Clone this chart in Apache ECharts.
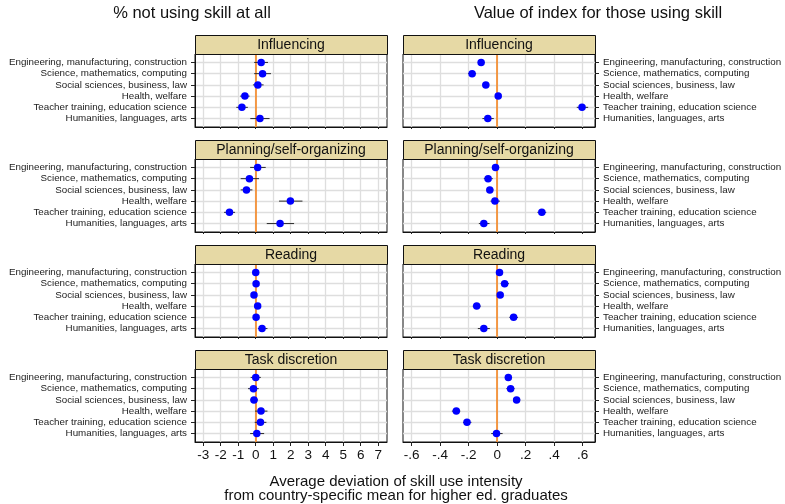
<!DOCTYPE html>
<html>
<head>
<meta charset="utf-8">
<script src="https://cdn.jsdelivr.net/npm/echarts@6/dist/echarts.min.js"></script>
<style>
  html, body { margin: 0; padding: 0; background: #fff; }
  #chart { width: 785px; height: 504px; }
</style>
</head>
<body>
<div id="chart"></div>
<script>
// Fields of study (rows of every panel, top to bottom)
const categories = [
  'Engineering, manufacturing, construction',
  'Science, mathematics, computing',
  'Social sciences, business, law',
  'Health, welfare',
  'Teacher training, education science',
  'Humanities, languages, arts'
];
const skillTitles = ['Influencing', 'Planning/self-organizing', 'Reading', 'Task discretion'];
const columnTitles = ['% not using skill at all', 'Value of index for those using skill'];
const xAxisTitle = 'Average deviation of skill use intensity\nfrom country-specific mean for higher ed. graduates';
const pctTicks = [-3, -2, -1, 0, 1, 2, 3, 4, 5, 6, 7];
const indexTicks = [-0.6, -0.4, -0.2, 0, 0.2, 0.4, 0.6];

// % not using skill at all: estimate with lower / upper confidence bounds
const influencingPct   = [0.31, 0.39, 0.12, -0.62, -0.79, 0.24];
const influencingPctLo = [-0.09, -0.09, -0.16, -0.89, -1.11, -0.31];
const influencingPctHi = [0.70, 0.87, 0.45, -0.35, -0.45, 0.79];

const planningPct   = [0.11, -0.36, -0.53, 1.98, -1.50, 1.39];
const planningPctLo = [-0.32, -0.86, -0.86, 1.33, -1.81, 0.63];
const planningPctHi = [0.57, 0.19, -0.19, 2.67, -1.18, 2.19];

const readingPct   = [0.00, 0.02, -0.10, 0.11, 0.02, 0.36];
const readingPctLo = [-0.15, -0.13, -0.25, -0.06, -0.13, 0.13];
const readingPctHi = [0.15, 0.17, 0.06, 0.29, 0.17, 0.67];

const discretionPct   = [0.00, -0.13, -0.10, 0.30, 0.27, 0.06];
const discretionPctLo = [-0.29, -0.44, -0.32, -0.04, -0.06, -0.32];
const discretionPctHi = [0.29, 0.17, 0.13, 0.67, 0.61, 0.48];

// Value of index for those using the skill
const influencingIdx   = [-0.113, -0.176, -0.080, 0.007, 0.595, -0.066];
const influencingIdxLo = [-0.136, -0.205, -0.102, -0.016, 0.558, -0.104];
const influencingIdxHi = [-0.089, -0.148, -0.056, 0.030, 0.638, -0.024];

const planningIdx   = [-0.012, -0.064, -0.052, -0.016, 0.313, -0.094];
const planningIdxLo = [-0.035, -0.094, -0.075, -0.047, 0.282, -0.129];
const planningIdxHi = [0.014, -0.031, -0.026, 0.019, 0.344, -0.054];

const readingIdx   = [0.016, 0.052, 0.021, -0.144, 0.115, -0.094];
const readingIdxLo = [-0.005, 0.024, 0.000, -0.172, 0.085, -0.136];
const readingIdxHi = [0.040, 0.082, 0.042, -0.115, 0.146, -0.052];

const discretionIdx   = [0.078, 0.094, 0.136, -0.287, -0.212, -0.005];
const discretionIdxLo = [0.054, 0.064, 0.113, -0.318, -0.240, -0.042];
const discretionIdxHi = [0.104, 0.122, 0.162, -0.259, -0.181, 0.038];

const panels = [
  { row: 0, col: 0, est: influencingPct, lo: influencingPctLo, hi: influencingPctHi },
  { row: 0, col: 1, est: influencingIdx, lo: influencingIdxLo, hi: influencingIdxHi },
  { row: 1, col: 0, est: planningPct, lo: planningPctLo, hi: planningPctHi },
  { row: 1, col: 1, est: planningIdx, lo: planningIdxLo, hi: planningIdxHi },
  { row: 2, col: 0, est: readingPct, lo: readingPctLo, hi: readingPctHi },
  { row: 2, col: 1, est: readingIdx, lo: readingIdxLo, hi: readingIdxHi },
  { row: 3, col: 0, est: discretionPct, lo: discretionPctLo, hi: discretionPctHi },
  { row: 3, col: 1, est: discretionIdx, lo: discretionIdxLo, hi: discretionIdxHi }
];

const FONT = '"Liberation Sans", Arial, Helvetica, sans-serif';
const colLeft = [195, 403];
const plotWidth = 192;
const plotHeight = 73;
const stripHeight = 19;
const firstStripTop = 35;
const rowPitch = 105;
const stripColor = '#E6D9A5';
const gridColor = '#DEDEDE';
const zeroColor = '#F5851F';
const dotColor = '#0000FF';
const frameColor = '#111';

function fmtIndex(v) {
  if (Math.abs(v) < 1e-9) return '0';
  const s = Math.abs(v).toFixed(1).replace(/^0/, '');
  return (v < 0 ? '-' : '') + s;
}

const grids = [], xAxes = [], yAxes = [], series = [], graphics = [];

panels.forEach((p, i) => {
  const stripTop = firstStripTop + p.row * rowPitch;
  const plotTop = stripTop + stripHeight;
  const isBottom = p.row === 3;

  grids.push({
    left: colLeft[p.col], top: plotTop, width: plotWidth, height: plotHeight,
    show: true, backgroundColor: '#fff', borderColor: frameColor, borderWidth: 1
  });

  const ticks = p.col === 0 ? pctTicks : indexTicks;
  xAxes.push({
    gridIndex: i, type: 'value',
    min: p.col === 0 ? -3.47 : -0.661,
    max: p.col === 0 ? 7.5 : 0.686,
    axisLine: { show: true, onZero: false, lineStyle: { color: frameColor, width: 1 } },
    axisTick: { show: true, customValues: ticks, length: isBottom ? 4 : 2, lineStyle: { color: '#222', width: 1 } },
    axisLabel: {
      show: isBottom, customValues: ticks, margin: 6,
      fontFamily: FONT, fontSize: 13.5, color: '#111',
      formatter: v => (p.col === 0 ? String(v) : fmtIndex(v))
    },
    splitLine: { show: true, lineStyle: { color: gridColor, width: 1.3 } }
  });

  yAxes.push({
    gridIndex: i, type: 'value', inverse: true,
    min: 0.25, max: 6.75,
    position: p.col === 0 ? 'left' : 'right',
    axisLine: { show: true, onZero: false, lineStyle: { color: frameColor, width: 1 } },
    axisTick: { show: true, customValues: [1, 2, 3, 4, 5, 6], length: 4, lineStyle: { color: '#222', width: 1 } },
    axisLabel: {
      show: true, customValues: [1, 2, 3, 4, 5, 6], margin: 8,
      fontFamily: FONT, fontSize: 9.8, color: '#222',
      formatter: v => categories[Math.round(v) - 1] || ''
    },
    splitLine: { show: true, lineStyle: { color: gridColor, width: 1.3 } }
  });

  // confidence interval whiskers
  series.push({
    type: 'custom', xAxisIndex: i, yAxisIndex: i, z: 3,
    data: categories.map((c, k) => [p.lo[k], p.hi[k], k + 1]),
    renderItem: (params, api) => {
      const a = api.coord([api.value(0), api.value(2)]);
      const b = api.coord([api.value(1), api.value(2)]);
      return {
        type: 'line',
        shape: { x1: a[0], y1: a[1], x2: b[0], y2: b[1] },
        style: { stroke: '#2a2a2a', lineWidth: 1 }
      };
    },
    animation: false
  });

  // point estimates, with the zero reference line
  series.push({
    type: 'scatter', xAxisIndex: i, yAxisIndex: i, z: 4,
    symbol: 'circle', symbolSize: 7.5,
    itemStyle: { color: dotColor, opacity: 1 },
    data: categories.map((c, k) => [p.est[k], k + 1]),
    markLine: {
      silent: true, symbol: 'none', animation: false, z: 2,
      label: { show: false },
      emphasis: { disabled: true },
      lineStyle: { color: zeroColor, width: 1.6, type: 'solid', opacity: 1 },
      data: [{ xAxis: 0 }]
    },
    animation: false
  });

  // panel strip
  graphics.push({
    type: 'rect', z: 10,
    shape: { x: colLeft[p.col] + 0.5, y: stripTop + 0.5, width: plotWidth, height: stripHeight },
    style: { fill: stripColor, stroke: frameColor, lineWidth: 1 }
  });
  graphics.push({
    type: 'text', z: 11,
    x: colLeft[p.col] + plotWidth / 2, y: stripTop + stripHeight / 2 + 1,
    style: {
      text: skillTitles[p.row], fill: '#111',
      font: '14px ' + FONT, textAlign: 'center', textVerticalAlign: 'middle'
    }
  });
});

// column headings
graphics.push({
  type: 'text', x: 192, y: 13,
  style: { text: columnTitles[0], fill: '#111', font: '16.5px ' + FONT, textAlign: 'center', textVerticalAlign: 'middle' }
});
graphics.push({
  type: 'text', x: 598, y: 13,
  style: { text: columnTitles[1], fill: '#111', font: '16.5px ' + FONT, textAlign: 'center', textVerticalAlign: 'middle' }
});
// shared x-axis title
graphics.push({
  type: 'text', x: 396, y: 489,
  style: {
    text: xAxisTitle, fill: '#111', font: '15px ' + FONT, lineHeight: 13.5,
    textAlign: 'center', textVerticalAlign: 'middle'
  }
});

const chart = echarts.init(document.getElementById('chart'), null, { renderer: 'canvas' });
chart.setOption({
  backgroundColor: '#fff',
  animation: false,
  grid: grids,
  xAxis: xAxes,
  yAxis: yAxes,
  series: series,
  graphic: graphics
});
</script>
</body>
</html>
